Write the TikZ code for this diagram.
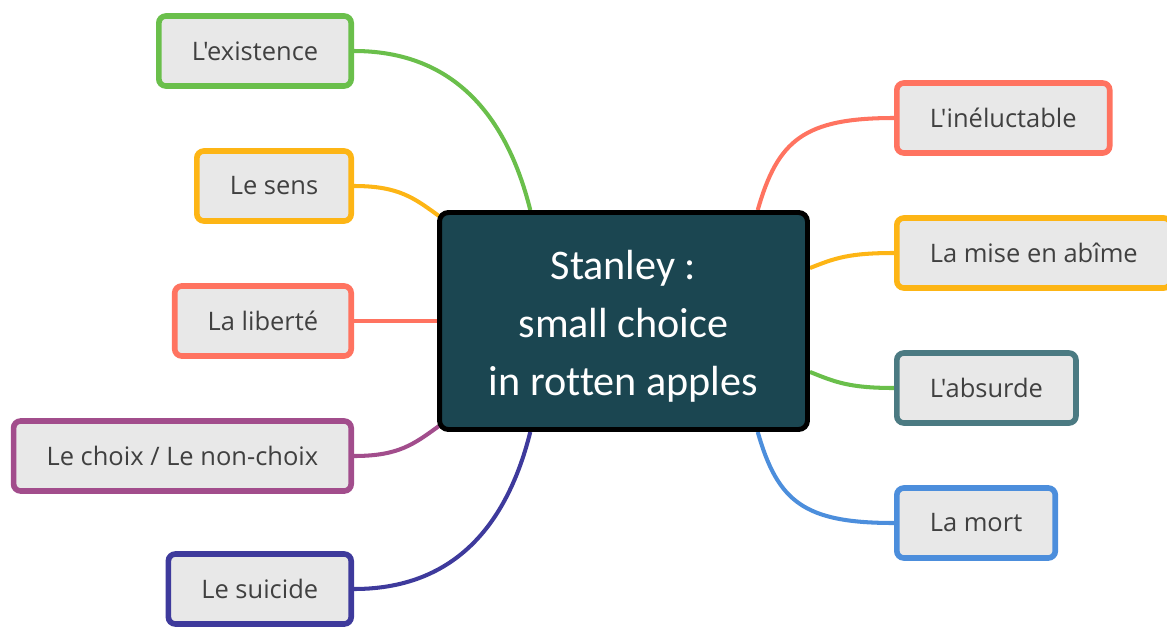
\documentclass[tikz,border=0pt]{standalone}
\usepackage{fontspec}
\newfontfamily\fogliafont{Open Sans}
\newfontfamily\hubfont{Carlito}[Ligatures=NoCommon]
\usetikzlibrary{positioning, calc, backgrounds}
\definecolor{verde}{HTML}{6ABF4B}
\definecolor{arancio}{HTML}{FDB515}
\definecolor{salmone}{HTML}{FF7360}
\definecolor{viola}{HTML}{A24D8C}
\definecolor{indaco}{HTML}{3E3A9C}
\definecolor{petrolio}{HTML}{4B7A82}
\definecolor{azzurro}{HTML}{4C8EDC}
\definecolor{fondo}{HTML}{1B4651}
\definecolor{grigio}{HTML}{E8E8E8}
\definecolor{testo}{HTML}{404040}
\tikzset{
  foglia/.style={draw, line width=3.2pt, rounded corners=4pt, fill=grigio, text=testo,
    inner xsep=0.66cm, minimum height=1.4cm, font=\fogliafont\fontsize{14.5}{17}\selectfont},
  centro/.style={draw=black, line width=2.8pt, rounded corners=5pt, fill=fondo,
    minimum width=7.36cm, minimum height=4.34cm},
  titolo/.style={text=white, align=center, font=\hubfont\fontsize{24}{33}\selectfont},
  ramo/.style={line width=2.3pt},
}
\begin{document}
\begin{tikzpicture}[x=0.02cm, y=-0.02cm]
    \useasboundingbox (0,0) rectangle (1167,626);
    %nodo centrale
    \node[centro] (hub) at (623.5,321) {};
    \node[titolo] (tema) at (623.5,326) {Stanley :\\small choice\\in rotten apples};
    %rami a sinistra
    \node[foglia, draw=verde, anchor=east] (esistenza) at (354,51) {L'existence};
    \node[foglia, draw=arancio, anchor=east] (senso) at (354,186) {Le sens};
    \node[foglia, draw=salmone, anchor=east] (liberta) at (354,321) {La liberté};
    \node[foglia, draw=viola, anchor=east] (scelta) at (354,456) {Le choix / Le non-choix};
    \node[foglia, draw=indaco, anchor=east] (suicidio) at (354,589) {Le suicide};
    %rami a destra
    \node[foglia, draw=salmone, anchor=west] (ineluttabile) at (894,118) {L'inéluctable};
    \node[foglia, draw=arancio, anchor=west] (abisso) at (894,253) {La mise en abîme};
    \node[foglia, draw=petrolio, anchor=west] (assurdo) at (894,388) {L'absurde};
    \node[foglia, draw=azzurro, anchor=west] (morte) at (894,523) {La mort};
    %collegamenti
    \begin{scope}[on background layer]
    \draw[ramo, verde] (esistenza.east) .. controls +(110,0) and +(-20,-80) .. ($(hub.north west)!0.25!(hub.north east)$);
    \draw[ramo, arancio] (senso.east) .. controls +(45,0) and +(-25,-18) .. ($(hub.north west)+(2,6)$);
    \draw[ramo, salmone] (liberta.east) -- (liberta -| hub.west);
    \draw[ramo, viola] (scelta.east) .. controls +(45,0) and +(-25,18) .. ($(hub.south west)+(2,-6)$);
    \draw[ramo, indaco] (suicidio.east) .. controls +(110,0) and +(-20,80) .. ($(hub.south west)!0.25!(hub.south east)$);
    \draw[ramo, salmone] (ineluttabile.west) .. controls +(-90,0) and +(20,-70) .. ($(hub.north west)!0.86!(hub.north east)$);
    \draw[ramo, arancio] (abisso.west) .. controls +(-45,0) and +(25,-10) .. ($(hub.north east)+(0,58)$);
    \draw[ramo, verde] (assurdo.west) .. controls +(-45,0) and +(25,10) .. ($(hub.south east)+(0,-60)$);
    \draw[ramo, azzurro] (morte.west) .. controls +(-90,0) and +(20,70) .. ($(hub.south west)!0.86!(hub.south east)$);
    \end{scope}
\end{tikzpicture}
\end{document}
